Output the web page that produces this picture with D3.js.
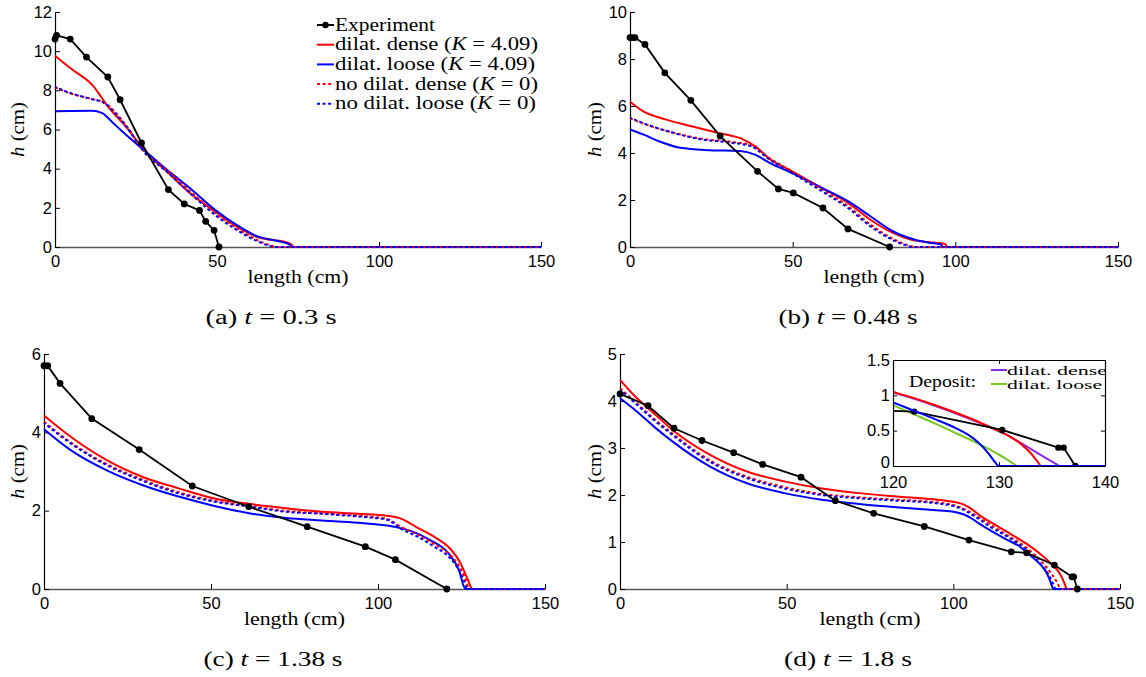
<!DOCTYPE html>
<html><head><meta charset="utf-8">
<script src="https://cdn.jsdelivr.net/npm/d3@7"></script>
<style>body{margin:0;background:#fff}</style>
</head><body><svg id="c" width="1146" height="677" xmlns="http://www.w3.org/2000/svg"></svg>
<script>
// ---------------- DATA ----------------
const xTicks = [0, 50, 100, 150];
// (a) t = 0.3 s
const aExpX = [0, 0.5, 4.7, 9.7, 16.3, 20.1, 26.7, 35.0, 39.9, 44.6, 46.5, 49.1, 50.6];
const aExpH = [10.62, 10.81, 10.62, 9.70, 8.68, 7.52, 5.31, 2.93, 2.20, 1.87, 1.31, 0.85, 0];
const aDenseX = [0, 5, 11.7, 16.3, 21.8, 28.4, 35, 41.6, 49.3, 55.9, 62.5, 66, 70.2, 72.9, 73.6, 150];
const aDenseH = [9.77, 9.1, 8.24, 7.18, 6.16, 4.80, 3.78, 2.76, 1.82, 1.06, 0.51, 0.38, 0.29, 0.14, 0, 0];
const aLooseX = [0, 5, 11.3, 14.6, 17.4, 20.7, 27.3, 33.9, 41.6, 49.3, 55.9, 62.5, 69.1, 72.4, 73.3, 150];
const aLooseH = [6.93, 6.95, 6.96, 6.84, 6.42, 5.91, 4.97, 4.03, 3.01, 1.91, 1.14, 0.54, 0.29, 0.12, 0, 0];
const aNoDenseX = [0, 5.3, 10.8, 15.2, 18.5, 22, 27.3, 35, 42.7, 49.3, 55.9, 62.5, 66.9, 68.5, 150];
const aNoDenseH = [8.15, 7.82, 7.58, 7.38, 6.90, 6.20, 4.92, 3.85, 2.70, 1.75, 0.98, 0.35, 0.06, 0, 0];
const aNoLooseX = [0, 5.3, 10.8, 15.2, 18.5, 22, 27.3, 35, 42.7, 49.3, 55.9, 62.5, 66.9, 67.8, 150];
const aNoLooseH = [8.17, 7.83, 7.57, 7.35, 6.84, 6.15, 4.89, 3.78, 2.59, 1.65, 0.89, 0.29, 0.03, 0, 0];
// (b) t = 0.48 s
const bExpX = [0, 0.6, 1.5, 4.6, 10.7, 18.7, 27.7, 39.2, 45.6, 50.2, 59.3, 67.0, 79.8];
const bExpH = [8.91, 8.91, 8.91, 8.62, 7.41, 6.24, 4.72, 3.22, 2.47, 2.30, 1.66, 0.77, 0];
const bDenseX = [0, 4, 10.9, 18.9, 26.9, 34.9, 38.4, 42.9, 49.8, 59, 67, 73.9, 80.8, 86.5, 92, 96.8, 97.6, 150];
const bDenseH = [6.18, 5.78, 5.43, 5.14, 4.86, 4.57, 4.29, 3.75, 3.22, 2.51, 1.88, 1.16, 0.60, 0.31, 0.20, 0.13, 0, 0];
const bLooseX = [0, 4, 9.7, 15.5, 24.6, 33.8, 38.4, 42.9, 49.8, 59, 67, 73.9, 80.8, 87.6, 92, 95.6, 96.2, 150];
const bLooseH = [5.0, 4.79, 4.46, 4.22, 4.12, 4.08, 3.93, 3.58, 3.15, 2.51, 1.95, 1.31, 0.67, 0.31, 0.18, 0.10, 0, 0];
const bNoDenseX = [0, 5.2, 13.2, 22.3, 31.5, 37.2, 42.9, 49.8, 59, 67, 73.9, 79.6, 84.2, 87.8, 150];
const bNoDenseH = [5.48, 5.20, 4.87, 4.60, 4.47, 4.33, 3.78, 3.22, 2.45, 1.74, 0.96, 0.44, 0.14, 0, 0];
const bNoLooseX = [0, 5.2, 13.2, 22.3, 31.5, 37.2, 42.9, 49.8, 59, 67, 73.9, 79.6, 84.2, 87, 150];
const bNoLooseH = [5.50, 5.21, 4.86, 4.57, 4.43, 4.29, 3.72, 3.15, 2.37, 1.66, 0.88, 0.38, 0.10, 0, 0];
// (c) t = 1.38 s
const cExpX = [0, 1.1, 4.8, 14.3, 28.5, 44.4, 61.3, 78.8, 96.2, 105.2, 120.6];
const cExpH = [5.70, 5.70, 5.25, 4.35, 3.56, 2.63, 2.10, 1.59, 1.08, 0.75, 0];
const cDenseX = [0, 8.1, 18.8, 29.6, 40.3, 51, 61.8, 72.6, 83.3, 94, 102.7, 106.5, 109, 111.5, 116.7, 121.5, 124.7, 126.9, 128.3, 150];
const cDenseH = [4.43, 3.88, 3.29, 2.86, 2.57, 2.31, 2.17, 2.06, 1.97, 1.92, 1.87, 1.81, 1.71, 1.58, 1.34, 1.04, 0.66, 0.24, 0, 0];
const cLooseX = [0, 8.1, 18.8, 29.6, 40.3, 51, 61.8, 72.6, 83.3, 94, 104.8, 110.2, 115.6, 121, 124.2, 126.2, 150];
const cLooseH = [4.08, 3.54, 3.03, 2.65, 2.36, 2.12, 1.93, 1.81, 1.75, 1.69, 1.59, 1.47, 1.25, 0.92, 0.49, 0, 0];
const cNoDenseX = [0, 8.1, 18.8, 29.6, 40.3, 51, 61.8, 72.6, 83.3, 94, 102.7, 107, 112, 117, 121, 124, 126, 127.4, 150];
const cNoDenseH = [4.27, 3.74, 3.19, 2.79, 2.47, 2.25, 2.12, 1.99, 1.93, 1.87, 1.79, 1.58, 1.38, 1.14, 0.92, 0.62, 0.30, 0, 0];
const cNoLooseX = [0, 8.1, 18.8, 29.6, 40.3, 51, 61.8, 72.6, 83.3, 94, 102.7, 107, 112, 117, 121, 124, 125.8, 126.7, 150];
const cNoLooseH = [4.24, 3.71, 3.16, 2.76, 2.44, 2.23, 2.10, 1.97, 1.92, 1.85, 1.77, 1.53, 1.33, 1.07, 0.84, 0.52, 0.20, 0, 0];
// (d) t = 1.8 s
const dExpX = [0, 8.4, 16.2, 24.6, 34.1, 42.8, 54.3, 64.6, 76.1, 91.3, 104.7, 117.4, 122.0, 130.3, 135.6, 136.1, 137.2];
const dExpH = [4.15, 3.90, 3.42, 3.16, 2.90, 2.65, 2.38, 1.88, 1.61, 1.33, 1.04, 0.79, 0.77, 0.51, 0.26, 0.26, 0];
const dDenseX = [0, 4.5, 10.1, 15.7, 26.9, 38.1, 49.3, 60.5, 71.7, 82.9, 94.1, 99.6, 103, 105.5, 108, 112, 116, 120, 122, 124, 126, 128, 130, 131, 132, 133, 133.6, 134, 150];
const dDenseH = [4.45, 4.10, 3.74, 3.39, 2.86, 2.50, 2.29, 2.14, 2.04, 1.97, 1.91, 1.86, 1.80, 1.70, 1.56, 1.39, 1.22, 1.05, 0.96, 0.86, 0.75, 0.63, 0.49, 0.42, 0.32, 0.18, 0.07, 0, 0];
const dLooseX = [0, 4.5, 10.1, 15.7, 26.9, 38.1, 49.3, 60.5, 71.7, 82.9, 94.1, 99.6, 103, 105.5, 108, 112, 116, 120, 122, 124, 126, 127, 128, 129, 129.6, 130, 150];
const dLooseH = [4.06, 3.81, 3.46, 3.14, 2.61, 2.25, 2.04, 1.90, 1.81, 1.74, 1.68, 1.65, 1.59, 1.50, 1.38, 1.21, 1.05, 0.90, 0.78, 0.66, 0.53, 0.45, 0.34, 0.18, 0.06, 0, 0];
const dNoDenseX = [0, 4.5, 10.1, 15.7, 26.9, 38.1, 49.3, 60.5, 71.7, 82.9, 94.1, 100.8, 104, 107, 110.9, 116.5, 122.1, 126.5, 129.5, 131.3, 132.2, 150];
const dNoDenseH = [4.27, 3.99, 3.63, 3.31, 2.74, 2.39, 2.17, 2.02, 1.95, 1.90, 1.85, 1.77, 1.68, 1.55, 1.38, 1.13, 0.87, 0.58, 0.32, 0.12, 0, 0];
const dNoLooseX = [0, 4.5, 10.1, 15.7, 26.9, 38.1, 49.3, 60.5, 71.7, 82.9, 94.1, 100.8, 104, 107, 110.9, 116.5, 122.1, 126.5, 128.8, 130, 130.7, 150];
const dNoLooseH = [4.24, 3.96, 3.60, 3.28, 2.71, 2.36, 2.14, 2.00, 1.93, 1.88, 1.83, 1.75, 1.65, 1.52, 1.33, 1.10, 0.82, 0.50, 0.28, 0.10, 0, 0];
// (d) inset: deposits
const insetXTicks = [120, 130, 140];
const insetYTicks = [0, 0.5, 1, 1.5];
const depDenseX = [120, 122, 124, 126, 128, 130, 132, 134, 135.7];
const depDenseH = [1.04, 0.95, 0.85, 0.74, 0.62, 0.50, 0.33, 0.15, 0];
const depLooseX = [120, 122, 124, 126, 128, 130, 131.7];
const depLooseH = [0.86, 0.73, 0.60, 0.46, 0.32, 0.16, 0];

const legendLabels = [
  [["Experiment", false]],
  [["dilat. dense (", false], ["K", true], [" = 4.09)", false]],
  [["dilat. loose (", false], ["K", true], [" = 4.09)", false]],
  [["no dilat. dense (", false], ["K", true], [" = 0)", false]],
  [["no dilat. loose (", false], ["K", true], [" = 0)", false]]
];
const insetLegend = ["dilat. dense", "dilat. loose"];

// ---------------- STYLE ----------------
const RED = "#ff0000", BLUE = "#0000ff", PURPLE = "#8c2ae4", GREEN = "#78c81e";
const SANS = "'Liberation Sans', Arial, sans-serif";
const SERIF = "'Liberation Serif', 'Times New Roman', serif";
const DOT = "3,2.6";

const svg = d3.select("#c");
const defs = svg.append("defs");

function zip(xs, hs) { return xs.map((v, i) => [v, hs[i]]); }

function serif(g, x, y, parts, size, len, anchor) {
  const t = g.append("text").attr("x", x).attr("y", y)
    .attr("font-family", SERIF).attr("font-size", size)
    .attr("text-anchor", anchor || "start").attr("fill", "#000");
  parts.forEach(p => t.append("tspan").text(p[0]).attr("font-style", p[1] ? "italic" : "normal"));
  if (len) t.attr("textLength", len).attr("lengthAdjust", "spacingAndGlyphs");
  return t;
}

function panel(p) {
  const x = d3.scaleLinear().domain([0, 150]).range([p.x0, p.x1]);
  const y = d3.scaleLinear().domain([0, p.ymax]).range([p.y0, p.y1]);
  const g = svg.append("g");
  const cid = "clip" + p.id;
  defs.append("clipPath").attr("id", cid).append("rect")
    .attr("x", p.x0 - 1).attr("y", p.y1 - 3).attr("width", p.x1 - p.x0 + 3).attr("height", p.y0 - p.y1 + 6);

  const xa = g.append("g").attr("transform", `translate(0,${p.y0})`)
    .call(d3.axisBottom(x).tickValues(xTicks).tickSizeInner(-5).tickSizeOuter(0).tickPadding(8).tickFormat(d3.format("d")));
  const ya = g.append("g").attr("transform", `translate(${p.x0},0)`)
    .call(d3.axisLeft(y).tickValues(p.yTicks).tickSizeInner(-5).tickSizeOuter(0).tickPadding(3).tickFormat(d3.format("d")));
  [xa, ya].forEach(a => {
    a.selectAll("text").attr("font-family", SANS).attr("font-size", 16.5).attr("fill", "#000");
    a.selectAll("line").attr("stroke", "#000").attr("stroke-width", 1);
  });
  xa.select(".domain").attr("stroke", "#555").attr("stroke-width", 1.6);
  ya.select(".domain").attr("stroke", "#000").attr("stroke-width", 1.2);

  const line = d3.line().x(d => x(d[0])).y(d => y(d[1])).curve(d3.curveMonotoneX);
  const lin = d3.line().x(d => x(d[0])).y(d => y(d[1]));
  const plot = g.append("g").attr("clip-path", `url(#${cid})`);
  const S = p.series;
  plot.append("path").datum(zip(S.dense[0], S.dense[1])).attr("d", line)
    .attr("fill", "none").attr("stroke", RED).attr("stroke-width", 2);
  plot.append("path").datum(zip(S.loose[0], S.loose[1])).attr("d", line)
    .attr("fill", "none").attr("stroke", BLUE).attr("stroke-width", 2);
  plot.append("path").datum(zip(S.noDense[0], S.noDense[1])).attr("d", line)
    .attr("fill", "none").attr("stroke", RED).attr("stroke-width", 2).attr("stroke-dasharray", DOT);
  plot.append("path").datum(zip(S.noLoose[0], S.noLoose[1])).attr("d", line)
    .attr("fill", "none").attr("stroke", BLUE).attr("stroke-width", 2).attr("stroke-dasharray", DOT).attr("stroke-dashoffset", 1.3);
  const ex = zip(S.exp[0], S.exp[1]);
  plot.append("path").datum(ex).attr("d", lin)
    .attr("fill", "none").attr("stroke", "#000").attr("stroke-width", 1.8);
  g.append("g").selectAll("circle").data(ex).join("circle")
    .attr("cx", d => x(d[0])).attr("cy", d => y(d[1])).attr("r", 3.4).attr("fill", "#000");

  serif(g, (p.x0 + p.x1) / 2, p.y0 + 36, [["length (cm)", false]], 18, 101, "middle");
  const yl = serif(g, 0, 0, [["h", true], [" (cm)", false]], 18, 55, "middle");
  yl.attr("transform", `translate(${p.ylx},${(p.y0 + p.y1) / 2}) rotate(-90)`);
  serif(g, p.capX, p.y0 + 77, [[p.cap[0], false], ["t", true], [p.cap[1], false]], 20, p.capLen, "middle");
  return { x, y, g };
}

panel({ id: "a", x0: 55, x1: 541, y0: 247, y1: 12, ymax: 12, yTicks: [0, 2, 4, 6, 8, 10, 12], ylx: 24,
  capX: 271, cap: ["(a) ", " = 0.3 s"], capLen: 131,
  series: { exp: [aExpX, aExpH], dense: [aDenseX, aDenseH], loose: [aLooseX, aLooseH], noDense: [aNoDenseX, aNoDenseH], noLoose: [aNoLooseX, aNoLooseH] } });
panel({ id: "b", x0: 630, x1: 1118, y0: 247, y1: 12, ymax: 10, yTicks: [0, 2, 4, 6, 8, 10], ylx: 601,
  capX: 848, cap: ["(b) ", " = 0.48 s"], capLen: 139,
  series: { exp: [bExpX, bExpH], dense: [bDenseX, bDenseH], loose: [bLooseX, bLooseH], noDense: [bNoDenseX, bNoDenseH], noLoose: [bNoLooseX, bNoLooseH] } });
panel({ id: "c", x0: 44, x1: 545, y0: 589, y1: 354, ymax: 6, yTicks: [0, 2, 4, 6], ylx: 24,
  capX: 273, cap: ["(c) ", " = 1.38 s"], capLen: 139,
  series: { exp: [cExpX, cExpH], dense: [cDenseX, cDenseH], loose: [cLooseX, cLooseH], noDense: [cNoDenseX, cNoDenseH], noLoose: [cNoLooseX, cNoLooseH] } });
panel({ id: "d", x0: 620, x1: 1120, y0: 589, y1: 354, ymax: 5, yTicks: [0, 1, 2, 3, 4, 5], ylx: 601,
  capX: 848, cap: ["(d) ", " = 1.8 s"], capLen: 128,
  series: { exp: [dExpX, dExpH], dense: [dDenseX, dDenseH], loose: [dLooseX, dLooseH], noDense: [dNoDenseX, dNoDenseH], noLoose: [dNoLooseX, dNoLooseH] } });

// ---------------- LEGEND (a) ----------------
{
  const lg = svg.append("g");
  const styles = [
    { c: "#000", d: null, m: true }, { c: RED, d: null }, { c: BLUE, d: null },
    { c: RED, d: DOT }, { c: BLUE, d: DOT }
  ];
  const lens = [100, 203, 200, 203, 201];
  legendLabels.forEach((lab, i) => {
    const cy = 25 + i * 19.7;
    const st = styles[i];
    lg.append("line").attr("x1", 317).attr("x2", 334).attr("y1", cy).attr("y2", cy)
      .attr("stroke", st.c).attr("stroke-width", 2).attr("stroke-dasharray", st.d);
    if (st.m) lg.append("circle").attr("cx", 325.5).attr("cy", cy).attr("r", 3.2).attr("fill", "#000");
    serif(lg, 335, cy + 5.5, lab, 18, lens[i], "start");
  });
}

// ---------------- INSET (d) ----------------
{
  const ix = d3.scaleLinear().domain([120, 140]).range([893, 1105]);
  const iy = d3.scaleLinear().domain([0, 1.5]).range([466, 360]);
  const g = svg.append("g");
  g.append("rect").attr("x", 893).attr("y", 360).attr("width", 212).attr("height", 106).attr("fill", "#fff");
  defs.append("clipPath").attr("id", "clipI").append("rect").attr("x", 893).attr("y", 360).attr("width", 212).attr("height", 106);
  const plot = g.append("g").attr("clip-path", "url(#clipI)");
  const line = d3.line().x(d => ix(d[0])).y(d => iy(d[1])).curve(d3.curveMonotoneX);
  const lin = d3.line().x(d => ix(d[0])).y(d => iy(d[1]));
  plot.append("path").datum(zip(depDenseX, depDenseH)).attr("d", line).attr("fill", "none").attr("stroke", PURPLE).attr("stroke-width", 2);
  plot.append("path").datum(zip(depLooseX, depLooseH)).attr("d", line).attr("fill", "none").attr("stroke", GREEN).attr("stroke-width", 2);
  plot.append("path").datum(zip(dDenseX, dDenseH)).attr("d", line).attr("fill", "none").attr("stroke", RED).attr("stroke-width", 2);
  const ex = zip(dExpX, dExpH);
  plot.append("path").datum(ex).attr("d", lin).attr("fill", "none").attr("stroke", "#000").attr("stroke-width", 1.8);
  plot.append("g").selectAll("circle").data(ex).join("circle")
    .attr("cx", d => ix(d[0])).attr("cy", d => iy(d[1])).attr("r", 3.2).attr("fill", "#000");
  plot.append("path").datum(zip(dLooseX, dLooseH)).attr("d", line).attr("fill", "none").attr("stroke", BLUE).attr("stroke-width", 2);

  serif(plot, 909, 387, [["Deposit:", false]], 16.5, 67, "start");
  [[PURPLE, 370], [GREEN, 384]].forEach((s, i) => {
    plot.append("line").attr("x1", 991).attr("x2", 1007).attr("y1", s[1]).attr("y2", s[1]).attr("stroke", s[0]).attr("stroke-width", 2);
    serif(plot, 1007, s[1] + 4.5, [[insetLegend[i], false]], 13.5, [100, 95][i], "start");
  });

  const ax = g.append("g").attr("transform", "translate(0,466)")
    .call(d3.axisBottom(ix).tickValues(insetXTicks).tickSizeInner(-4).tickSizeOuter(0).tickPadding(10));
  const ay = g.append("g").attr("transform", "translate(893,0)")
    .call(d3.axisLeft(iy).tickValues(insetYTicks).tickSizeInner(-4).tickSizeOuter(0).tickPadding(3).tickFormat(d => String(d)));
  const axt = g.append("g").attr("transform", "translate(0,360)")
    .call(d3.axisTop(ix).tickValues(insetXTicks).tickSizeInner(-4).tickSizeOuter(0).tickFormat(""));
  const ayr = g.append("g").attr("transform", "translate(1105,0)")
    .call(d3.axisRight(iy).tickValues(insetYTicks).tickSizeInner(-4).tickSizeOuter(0).tickFormat(""));
  [ax, ay, axt, ayr].forEach(a => {
    a.selectAll("text").attr("font-family", SANS).attr("font-size", 16.5).attr("fill", "#000");
    a.selectAll("line").attr("stroke", "#000");
    a.select(".domain").attr("stroke", "#000").attr("stroke-width", 1.2);
  });
  ay.selectAll(".tick text").filter(d => d === 0).attr("dy", "0.1em");
}
</script></body></html>
